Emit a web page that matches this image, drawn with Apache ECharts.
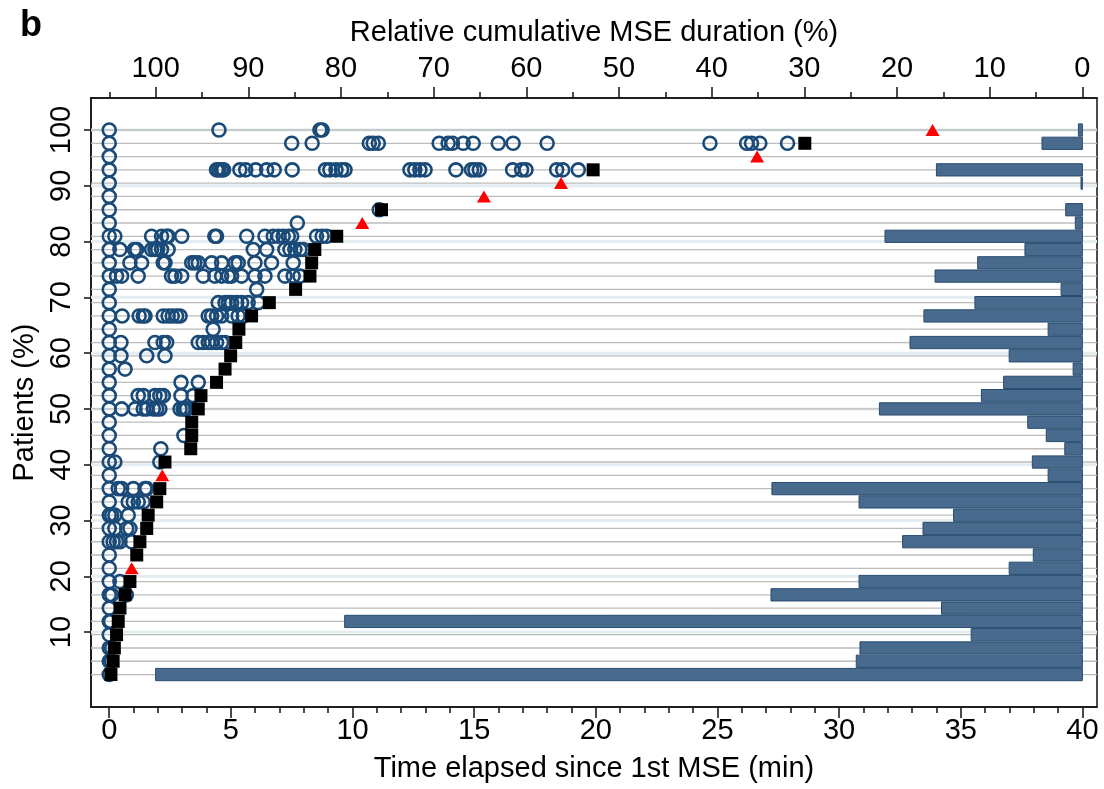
<!DOCTYPE html>
<html><head><meta charset="utf-8">
<script src="https://cdn.jsdelivr.net/npm/echarts@6/dist/echarts.min.js"></script>
<style>html,body{margin:0;padding:0;background:#fff}#c{width:1104px;height:789px}</style>
</head><body><div id="c"></div>
<script>
// ---------- DATA ----------
// Patient rows (cumulative % of patients), top to bottom
const patientPct = [100.00, 97.62, 95.24, 92.86, 90.48, 88.10, 85.71, 83.33, 80.95, 78.57,
  76.19, 73.81, 71.43, 69.05, 66.67, 64.29, 61.90, 59.52, 57.14, 54.76,
  52.38, 50.00, 47.62, 45.24, 42.86, 40.48, 38.10, 35.71, 33.33, 30.95,
  28.57, 26.19, 23.81, 21.43, 19.05, 16.67, 14.29, 11.90, 9.52, 7.14, 4.76, 2.38];

// Times (min) of each MSE per patient row (hollow circles)
const mseTimes = [
  [0, 4.51, 8.66, 8.75],
  [0, 7.50, 8.34, 10.69, 10.85, 11.06, 13.56, 13.93, 14.11, 14.55, 14.96, 15.99, 16.60, 18.00, 24.69, 26.20, 26.40, 26.74, 27.88],
  [0],
  [0, 4.41, 4.51, 4.62, 4.70, 5.37, 5.61, 6.02, 6.47, 6.78, 7.52, 8.89, 9.07, 9.32, 9.55, 9.69, 12.36, 12.56, 12.77, 12.98, 14.25, 14.89, 15.03, 15.21, 16.58, 16.95, 17.13, 18.39, 18.64, 19.28],
  [0],
  [0],
  [0, 11.10],
  [0, 7.73],
  [0, 0.23, 1.74, 2.15, 2.36, 2.42, 2.98, 4.34, 4.41, 5.65, 6.40, 6.74, 6.95, 7.15, 7.36, 7.50, 8.52, 8.75, 8.93],
  [0, 0.44, 1.03, 1.13, 1.74, 1.88, 1.99, 2.15, 2.42, 5.92, 6.47, 7.22, 7.43, 7.63, 7.84, 7.97],
  [0, 0.85, 1.33, 2.22, 2.29, 3.39, 3.52, 3.66, 4.21, 4.62, 5.17, 5.30, 5.99, 6.67, 7.56],
  [0, 0.30, 0.51, 1.19, 2.56, 2.70, 2.98, 3.86, 4.34, 4.62, 4.89, 5.03, 5.44, 5.99, 6.40, 7.22, 7.56, 7.84],
  [0, 6.06],
  [0, 4.48, 4.76, 4.89, 5.03, 5.24, 5.44, 5.71, 6.12],
  [0, 0.53, 1.23, 1.40, 1.47, 2.22, 2.42, 2.59, 2.77, 2.91, 4.07, 4.21, 4.41, 4.62, 5.03, 5.30, 5.51],
  [0, 4.27],
  [0, 0.48, 1.88, 2.22, 2.36, 3.66, 3.86, 4.07, 4.21, 4.41, 4.62, 4.76],
  [0, 0.48, 1.54, 2.29],
  [0, 0.65],
  [0, 2.95, 3.66],
  [0, 1.19, 1.40, 1.88, 2.08, 2.22, 2.95, 3.45],
  [0, 0.51, 1.06, 1.40, 1.54, 1.81, 1.95, 2.08, 2.91, 3.04, 3.11, 3.18],
  [0],
  [0, 3.07],
  [0, 2.12],
  [0, 0.23, 2.08],
  [0],
  [0, 0.37, 0.51, 0.99, 1.47, 1.54],
  [0, 0.78, 0.99, 1.19, 1.40],
  [0, 0.10, 0.23, 0.78],
  [0, 0.23, 0.72, 0.85],
  [0, 0.16, 0.30, 0.44, 0.92],
  [0],
  [0],
  [0, 0.44],
  [0, 0.10, 0.70],
  [0],
  [0, 0.05],
  [0],
  [0, 0.10],
  [0, 0.08],
  [0]
];

// Last event time per row and its marker type ('sq' = black square, 'tri' = red triangle)
const endTime = [33.84, 28.59, 26.63, 19.89, 18.57, 15.40, 11.19, 10.40, 9.35, 8.45,
  8.32, 8.25, 7.66, 6.58, 5.85, 5.33, 5.20, 4.99, 4.76, 4.41,
  3.77, 3.66, 3.39, 3.39, 3.35, 2.29, 2.18, 2.08, 1.95, 1.60,
  1.54, 1.26, 1.13, 0.92, 0.85, 0.65, 0.44, 0.37, 0.30, 0.21, 0.16, 0.07];
const endType = ['tri','sq','tri','sq','tri','tri','sq','tri','sq','sq',
  'sq','sq','sq','sq','sq','sq','sq','sq','sq','sq',
  'sq','sq','sq','sq','sq','sq','tri','sq','sq','sq',
  'sq','sq','sq','tri','sq','sq','sq','sq','sq','sq','sq','sq'];

// Relative cumulative MSE duration (%) per row (bars, top axis)
const durationPct = [0.43, 4.36, 0, 15.75, 0.15, 0, 1.8, 0.76, 21.3, 6.2,
  11.3, 15.9, 2.3, 11.6, 17.1, 3.7, 18.6, 7.9, 1.0, 8.5,
  10.9, 21.9, 5.9, 3.9, 1.9, 5.4, 3.7, 33.5, 24.1, 13.9,
  17.2, 19.4, 5.3, 7.9, 24.1, 33.6, 15.2, 79.6, 12.0, 24.0, 24.4, 100];

// Tick values
const xTicks = [0, 5, 10, 15, 20, 25, 30, 35, 40];
const xMinorTicks = [0,1,2,3,4,5,6,7,8,9,10,11,12,13,14,15,16,17,18,19,20,21,22,23,24,25,26,27,28,29,30,31,32,33,34,35,36,37,38,39,40];
const topTicks = [0, 10, 20, 30, 40, 50, 60, 70, 80, 90, 100];
const topMinorTicks = [5, 15, 25, 35, 45, 55, 65, 75, 85, 95, 105];
const yTicks = [10, 20, 30, 40, 50, 60, 70, 80, 90, 100];

// ---------- LAYOUT ----------
const X_MIN = -0.75, X_MAX = 40.6;
const P_MIN = -1.575, P_MAX = 106.97;
const Y_MIN = -3.44, Y_MAX = 105.74;
const FONT = 'Liberation Sans, Arial, sans-serif';
const FS = 29;
const BAR_H = 2.2; // bar thickness in y units

const circleData = [], squareData = [], triData = [];
mseTimes.forEach((arr, i) => arr.forEach(t => circleData.push([t, patientPct[i]])));
endTime.forEach((t, i) => (endType[i] === 'tri' ? triData : squareData).push([t, patientPct[i]]));

const axisLine = {show: true, onZero: false, lineStyle: {color: '#111', width: 1.5}};
const noLine = {show: false, onZero: false};
const tickStyle = {color: '#111', width: 1.5};
const chart = echarts.init(document.getElementById('c'), null, {renderer: 'canvas'});
chart.setOption({
  animation: false,
  backgroundColor: '#fff',
  title: {text: 'b', left: 15, top: 3, textStyle: {fontSize: 36, fontWeight: 'bold', fontFamily: FONT, color: '#000'}},
  grid: {left: 91, right: 7, top: 98, bottom: 82, show: true, borderColor: '#111', borderWidth: 1.5, backgroundColor: 'transparent'},
  xAxis: [
    {type: 'value', position: 'bottom', min: X_MIN, max: X_MAX, axisLine,
     axisTick: {show: true, length: 11, customValues: xTicks, lineStyle: tickStyle},
     axisLabel: {customValues: xTicks, fontSize: FS, fontFamily: FONT, color: '#000', margin: 9},
     splitLine: {show: false},
     name: 'Time elapsed since 1st MSE (min)', nameLocation: 'middle', nameGap: 47,
     nameTextStyle: {fontSize: FS, fontFamily: FONT, color: '#000'}},
    {type: 'value', position: 'bottom', min: X_MIN, max: X_MAX, axisLine: noLine,
     axisTick: {show: true, length: 6, customValues: xMinorTicks, lineStyle: tickStyle},
     axisLabel: {show: false}, splitLine: {show: false}},
    {type: 'value', position: 'top', inverse: true, min: P_MIN, max: P_MAX, axisLine,
     axisTick: {show: true, length: 11, customValues: topTicks, lineStyle: tickStyle},
     axisLabel: {customValues: topTicks, fontSize: FS, fontFamily: FONT, color: '#000', margin: 15},
     splitLine: {show: false},
     name: 'Relative cumulative MSE duration (%)', nameLocation: 'middle', nameGap: 51,
     nameTextStyle: {fontSize: FS, fontFamily: FONT, color: '#000'}},
    {type: 'value', position: 'top', inverse: true, min: P_MIN, max: P_MAX, axisLine: noLine,
     axisTick: {show: true, length: 6, customValues: topMinorTicks, lineStyle: tickStyle},
     axisLabel: {show: false}, splitLine: {show: false}}
  ],
  yAxis: [
    {type: 'value', position: 'left', min: Y_MIN, max: Y_MAX, axisLine,
     axisTick: {show: true, length: 7, customValues: yTicks, lineStyle: tickStyle},
     axisLabel: {customValues: yTicks, rotate: 90, fontSize: FS, fontFamily: FONT, color: '#000', margin: 15},
     splitLine: {show: false},
     name: 'Patients (%)', nameLocation: 'middle', nameGap: 46, nameRotate: 90,
     nameTextStyle: {fontSize: FS, fontFamily: FONT, color: '#000'}}
  ],
  series: [
    // light major gridlines at y ticks
    {type: 'custom', xAxisIndex: 0, yAxisIndex: 0, z: 1, silent: true,
     data: yTicks.map(v => [X_MIN, v]), encode: {x: 0, y: 1},
     renderItem: (params, api) => {
       const y = api.value(1);
       const a = api.coord([X_MIN, y]), b = api.coord([X_MAX, y]);
       return {type: 'line', shape: {x1: a[0], y1: a[1], x2: b[0], y2: b[1]}, style: {stroke: '#e4edf2', lineWidth: 3}};
     }},
    // row lines
    {type: 'custom', xAxisIndex: 0, yAxisIndex: 0, z: 2, silent: true,
     data: patientPct.map(v => [X_MIN, v]), encode: {x: 0, y: 1},
     renderItem: (params, api) => {
       const y = api.value(1);
       const a = api.coord([X_MIN, y]), b = api.coord([X_MAX, y]);
       return {type: 'line', shape: {x1: a[0], y1: a[1], x2: b[0], y2: b[1]}, style: {stroke: '#bcbcbc', lineWidth: 1.3}};
     }},
    // duration bars on top axis
    {type: 'custom', xAxisIndex: 2, yAxisIndex: 0, z: 3, silent: true,
     data: durationPct.map((v, i) => [v, patientPct[i]]), encode: {x: 0, y: 1},
     renderItem: (params, api) => {
       const v = api.value(0), y = api.value(1);
       if (!v) return null;
       const a = api.coord([0, y]), b = api.coord([v, y]);
       const h = api.size([0, BAR_H])[1];
       return {type: 'rect', shape: {x: b[0], y: a[1] - h / 2, width: a[0] - b[0], height: h},
               style: {fill: '#476a8d', stroke: '#284c70', lineWidth: 1}};
     }},
    {type: 'scatter', xAxisIndex: 0, yAxisIndex: 0, z: 4, silent: true, data: circleData,
     symbol: 'circle', symbolSize: 13,
     itemStyle: {color: 'rgba(255,255,255,0)', borderColor: '#1a4a78', borderWidth: 2.6, opacity: 1}},
    {type: 'scatter', xAxisIndex: 0, yAxisIndex: 0, z: 5, silent: true, data: squareData,
     symbol: 'rect', symbolSize: 13, itemStyle: {color: '#000', opacity: 1}},
    {type: 'scatter', xAxisIndex: 0, yAxisIndex: 0, z: 5, silent: true, data: triData,
     symbol: 'triangle', symbolSize: [14, 12], itemStyle: {color: '#ff0000', opacity: 1}}
  ]
});
</script>
</body></html>
